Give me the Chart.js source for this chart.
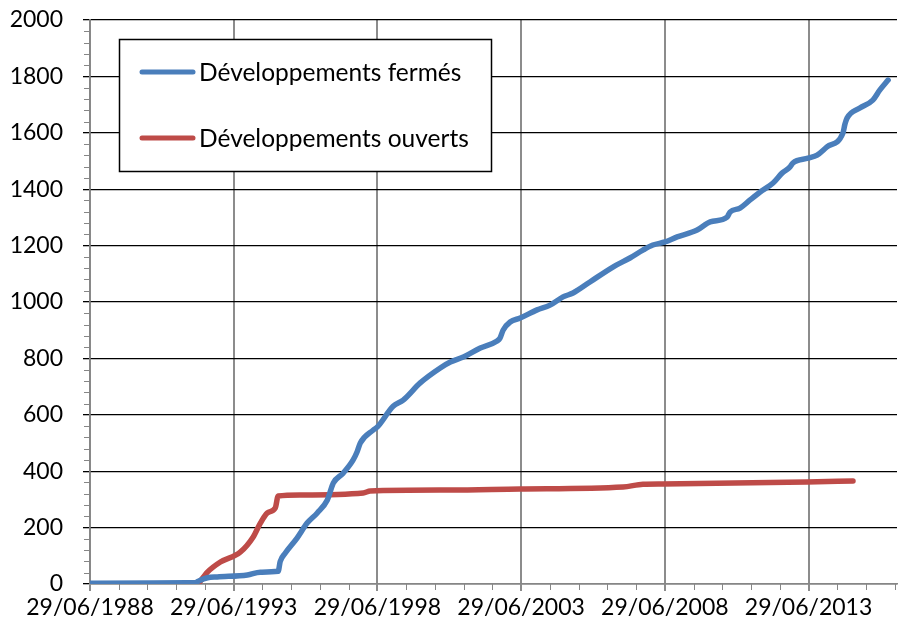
<!DOCTYPE html>
<html><head><meta charset="utf-8">
<script src="https://cdn.jsdelivr.net/npm/chart.js@4.4.1/dist/chart.umd.min.js"></script>
<style>html,body{margin:0;padding:0;background:#fff}#wrap{width:899px;height:630px}</style>
</head><body><div id="wrap"><canvas id="c" width="899" height="630"></canvas></div>
<script>
const seriesLabels = ['Développements fermés', 'Développements ouverts'];
const seriesColors = ['#4a7ebb', '#be4b48'];

const closedDates = ['1988-06-29','1992-03-01','1992-04-05','1992-07-30','1992-12-02','1993-12-20','1994-06-03','1995-01-15','1995-02-10','1995-04-16','1995-09-12','1996-01-18','1996-05-26','1996-10-01','1996-12-16','1997-04-20','1997-08-25','1997-10-16','1997-11-24','1998-05-08','1998-06-29','1999-01-15','1999-05-23','1999-12-25','2000-09-05','2001-01-11','2001-06-25','2002-01-27','2002-08-28','2002-10-04','2002-11-12','2003-02-10','2003-06-17','2004-01-18','2004-07-01','2004-12-13','2005-04-19','2005-11-20','2006-09-08','2007-04-12','2007-09-24','2008-01-29','2008-07-01','2008-12-02','2009-08-13','2010-01-26','2010-08-29','2010-10-05','2011-02-09','2011-06-17','2011-10-23','2012-04-04','2012-07-27','2012-11-06','2012-12-12','2013-06-22','2013-10-16','2014-02-18','2014-09-09','2014-10-04','2014-10-31','2015-04-12','2015-09-24','2015-12-23','2016-04-05'];
const closedValues = [3,5,10,22,25,32,42,45,80,110,163,216,252,298,358,393,440,470,500,546,557,630,652,713,766,787,805,837,862,872,900,929,943,972,989,1018,1032,1071,1124,1156,1184,1202,1213,1231,1255,1284,1301,1319,1333,1362,1390,1422,1457,1479,1493,1510,1521,1550,1599,1630,1652,1688,1716,1752,1787];

const openDates = ['1992-04-05','1992-07-30','1993-01-11','1993-09-20','1994-03-04','1994-06-03','1994-08-30','1994-12-10','1995-01-15','1995-10-23','1998-01-01','1998-03-30','2001-01-11','2003-06-17','2007-01-15','2007-09-24','2008-06-05','2013-06-10','2015-01-15'];
const openValues = [0,42,78,113,167,216,252,270,312,316,323,330,333,337,344,354,355,362,365];

const xTickDates = ['1988-06-29','1993-06-29','1998-06-29','2003-06-29','2008-06-29','2013-06-29'];
const xMinDate = '1988-06-29';
const xMaxDate = '2016-07-27';
const yMin = 0, yMax = 2000, yStep = 200, yMinorStep = 40;

function ts(s){ const p = s.split('-').map(Number); return Date.UTC(p[0], p[1]-1, p[2]); }
function fmt(v){ const d = new Date(v); const dd = String(d.getUTCDate()).padStart(2,'0'); const mm = String(d.getUTCMonth()+1).padStart(2,'0'); return dd+'/'+mm+'/'+d.getUTCFullYear(); }

const FONT = 'Lato, "Open Sans", sans-serif';

const minorTicks = {
  id: 'minorTicks',
  afterDraw(chart){
    const ctx = chart.ctx, a = chart.chartArea, ys = chart.scales.y, xs = chart.scales.x;
    ctx.save();
    ctx.strokeStyle = '#868686'; ctx.lineWidth = 1;
    for (let v = yMin + yMinorStep; v < yMax; v += yMinorStep){
      if (v % yStep === 0) continue;
      const y = Math.round(ys.getPixelForValue(v)) + 0.5;
      ctx.beginPath(); ctx.moveTo(a.left - 6, y); ctx.lineTo(a.left, y); ctx.stroke();
    }
    const y0 = 1988, y1 = 2016;
    for (let yr = y0 + 1; yr <= y1; yr++){
      if ((yr - y0) % 5 === 0) continue;
      const t = Date.UTC(yr, 5, 29);
      if (t > xs.max) break;
      const x = Math.round(xs.getPixelForValue(t)) + 0.5;
      ctx.beginPath(); ctx.moveTo(x, a.bottom); ctx.lineTo(x, a.bottom + 6); ctx.stroke();
    }
    ctx.restore();
  }
};

const boxLegend = {
  id: 'boxLegend',
  afterDraw(chart){
    const ctx = chart.ctx;
    ctx.save();
    ctx.fillStyle = '#fff';
    ctx.fillRect(119, 39, 373, 133);
    ctx.strokeStyle = '#000'; ctx.lineWidth = 1.5;
    ctx.strokeRect(119.5, 39.5, 372, 132);
    const rows = [72, 138];
    chart.data.datasets.forEach((ds, i) => {
      const y = rows[i];
      ctx.strokeStyle = ds.borderColor; ctx.lineWidth = 5; ctx.lineCap = 'round';
      ctx.beginPath(); ctx.moveTo(142, y); ctx.lineTo(193, y); ctx.stroke();
      ctx.fillStyle = '#000'; ctx.font = '24.5px ' + FONT; ctx.textBaseline = 'middle'; ctx.textAlign = 'left';
      ctx.fillText(ds.label, 199, y + 1);
    });
    ctx.restore();
  }
};

const toXY = (ds, vs) => ds.map((d, i) => ({x: ts(d), y: vs[i]}));

new Chart(document.getElementById('c'), {
  type: 'line',
  data: {
    datasets: [
      {label: seriesLabels[0], data: toXY(closedDates, closedValues), borderColor: seriesColors[0], backgroundColor: seriesColors[0], borderWidth: 5.5, pointRadius: 0, cubicInterpolationMode: 'monotone', borderJoinStyle: 'round', borderCapStyle: 'round'},
      {label: seriesLabels[1], data: toXY(openDates, openValues), borderColor: seriesColors[1], backgroundColor: seriesColors[1], borderWidth: 5.5, pointRadius: 0, cubicInterpolationMode: 'monotone', borderJoinStyle: 'round', borderCapStyle: 'round'}
    ]
  },
  options: {
    responsive: false,
    animation: false,
    layout: {padding: {top: 20, right: 2, left: 0, bottom: 0}},
    plugins: {legend: {display: false}, tooltip: {enabled: false}},
    scales: {
      x: {
        type: 'linear', min: ts(xMinDate), max: ts(xMaxDate),
        afterBuildTicks: s => { s.ticks = xTickDates.map(d => ({value: ts(d)})); },
        afterFit: s => { s.height = 46; s.paddingLeft = 0; s.paddingRight = 0; },
        ticks: {callback: v => fmt(v), color: '#000', font: {family: FONT, size: 23}, padding: 3, maxRotation: 0, autoSkip: false},
        grid: {color: '#8c8c8c', lineWidth: 2, tickLength: 7},
        border: {color: '#868686', width: 1.5}
      },
      y: {
        min: yMin, max: yMax,
        afterBuildTicks: s => { const t = []; for (let v = yMin; v <= yMax; v += yStep) t.push({value: v}); s.ticks = t; },
        afterFit: s => { s.width = 90; s.paddingTop = 0; s.paddingBottom = 0; },
        ticks: {callback: v => String(v), color: '#000', font: {family: FONT, size: 23}, padding: 20},
        grid: {color: '#000', lineWidth: 1.3, tickLength: 7},
        border: {color: '#868686', width: 1.5}
      }
    }
  },
  plugins: [minorTicks, boxLegend]
});
</script></body></html>
